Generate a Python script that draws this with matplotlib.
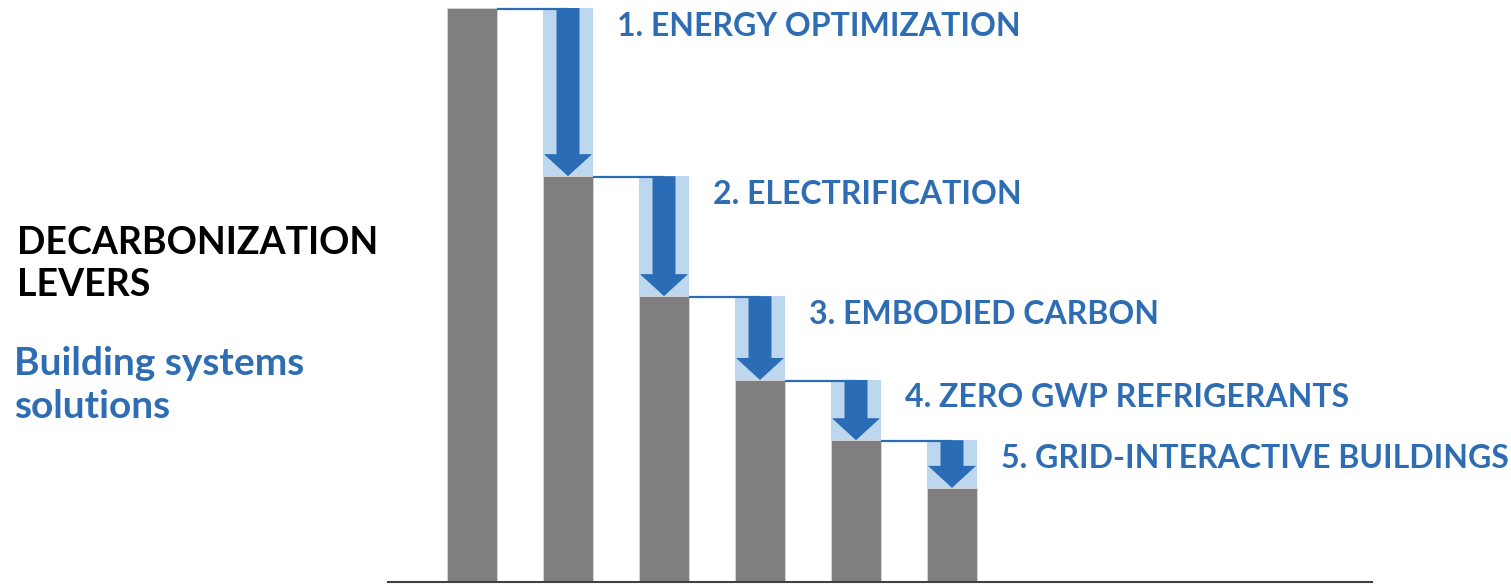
"""Decarbonization levers waterfall (stepped bars with downward arrows)."""

import matplotlib
matplotlib.use("Agg")
import matplotlib.pyplot as plt
import matplotlib.patches as mpatches

# Data ---------------------------------------------------------------------
bar_values = [100.0, 70.7, 49.8, 35.2, 24.7, 16.4]
lever_labels = [
    "1. ENERGY OPTIMIZATION",
    "2. ELECTRIFICATION",
    "3. EMBODIED CARBON",
    "4. ZERO GWP REFRIGERANTS",
    "5. GRID-INTERACTIVE BUILDINGS",
]
title_text = "DECARBONIZATION\nLEVERS"
subtitle_text = "Building systems\nsolutions"

# Style --------------------------------------------------------------------
GRAY = "#7f7f7f"
LIGHT_BLUE = "#bdd7ee"
BLUE = "#2b6cb6"
TEXT_BLUE = "#2e6db4"
AXIS = "#404040"
FONT = ["Lato", "DejaVu Sans"]

W, H = 1511, 585
fig = plt.figure(figsize=(W / 100, H / 100), dpi=100)

# axes in pixel terms: baseline at y=582, axis line from x=388 to x=1372
ax = fig.add_axes([388 / W, 3 / H, 984 / W, 582 / H])
px_per_unit_x = 96.0
ax.set_xlim((388 - 472) / px_per_unit_x, (1372 - 472) / px_per_unit_x)
ymax = 582 / 5.74
ax.set_ylim(0, ymax)
px_per_unit_y = 582 / ymax

bar_w = 50 / px_per_unit_x
xs = list(range(len(bar_values)))

ax.bar(xs, bar_values, width=bar_w, color=GRAY, edgecolor="#d9d9d9",
       linewidth=0.6, zorder=2)

shaft_w = 23 / px_per_unit_x
head_w = 48 / px_per_unit_x
head_len = 22 / px_per_unit_y

for i in range(1, len(bar_values)):
    prev, cur = bar_values[i - 1], bar_values[i]
    # light blue reduction block
    ax.add_patch(mpatches.Rectangle((i - bar_w / 2, cur), bar_w, prev - cur,
                                    facecolor=LIGHT_BLUE, edgecolor="none",
                                    zorder=2))
    # connector from previous bar to centre of this one
    ax.plot([i - 1 + bar_w / 2, i], [prev - 0.15, prev - 0.15], color=BLUE,
            lw=1.6, solid_capstyle="butt", zorder=3)
    # downward arrow
    ax.add_patch(mpatches.FancyArrow(i, prev, 0, cur - prev, width=shaft_w,
                                     head_width=head_w, head_length=head_len,
                                     length_includes_head=True,
                                     facecolor=BLUE, edgecolor="none",
                                     zorder=4))
    ax.annotate(lever_labels[i - 1], xy=(i + bar_w / 2, prev),
                xytext=(24, -18), textcoords="offset pixels",
                ha="left", va="center", fontsize=23, fontweight="bold",
                color=TEXT_BLUE, family=FONT, annotation_clip=False)

for side in ("top", "right", "left"):
    ax.spines[side].set_visible(False)
ax.spines["bottom"].set_color(AXIS)
ax.spines["bottom"].set_linewidth(1.5)
ax.set_xticks([])
ax.set_yticks([])
ax.patch.set_alpha(0)

fig.text(17 / W, 1 - 264 / H, title_text, ha="left", va="center",
         fontsize=27, fontweight="bold", color="black", family=FONT,
         linespacing=1.3)
fig.text(14 / W, 1 - 385 / H, subtitle_text, ha="left", va="center",
         fontsize=28, fontweight="bold", color=TEXT_BLUE, family=FONT,
         linespacing=1.25)

fig.savefig("out.png", dpi=100)
